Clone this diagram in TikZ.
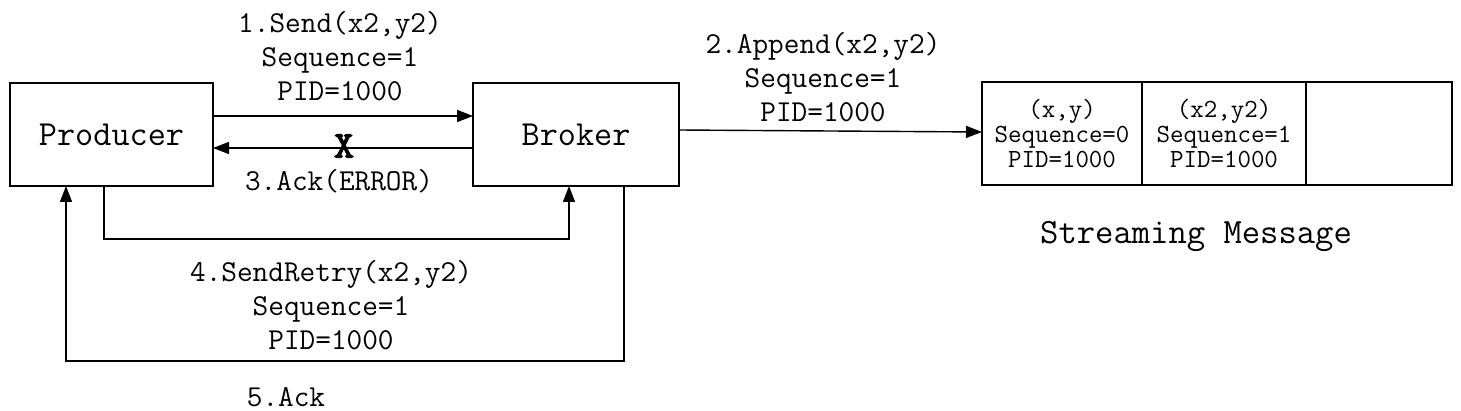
\documentclass[tikz,border=0pt]{standalone}
\usepackage{fontspec}
\usepackage{tikz}
\usetikzlibrary{arrows.meta}

\newfontfamily\boldtt{lmmono10-regular.otf}[FakeBold=3]

\tikzset{
  box/.style={draw, line width=0.7pt, inner sep=0pt, outer sep=0pt},
  arr/.style={line width=0.7pt, -{Triangle[length=8pt,width=6pt]}},
  lbl/.style={align=center, font=\fontsize{15.2}{17}\selectfont\ttfamily},
  cell/.style={box, minimum height=51.5pt, align=center, font=\fontsize{13.1}{12.5}\selectfont\ttfamily}
}

\begin{document}
\begin{tikzpicture}[x=0.5pt, y=-0.5pt]
            \useasboundingbox (0,0) rectangle (1461,411);
            \node[box, minimum width=101.5pt, minimum height=51.5pt, font=\fontsize{17.6}{20}\selectfont\ttfamily] (prod) at (111.5,134.5) {Producer};
            \node[box, minimum width=103pt, minimum height=51.5pt, font=\fontsize{17.6}{20}\selectfont\ttfamily] (brok) at (576,134.5) {Broker};
            \node[cell, minimum width=80pt] (c1) at (1062,133.5) {(x,y)\\Sequence=0\\PID=1000};
            \node[cell, minimum width=82pt] (c2) at (1224,133.5) {(x2,y2)\\Sequence=1\\PID=1000};
            \node[cell, minimum width=73pt] (c3) at (1379,133.5) {};
            \node[font=\fontsize{17.8}{20}\selectfont\ttfamily] (strm) at (1196,236) {Streaming Message};
            \draw[arr] (prod.east |- 0,116) -- (brok.west |- 0,116);
            \draw[arr] (brok.west |- 0,148) -- (prod.east |- 0,148);
            \draw[arr] (brok.east |- 0,130) -- (c1.west |- 0,132);
            \draw[arr] (prod.south -| 104,0) -- (104,239) -| (brok.south -| 569,0);
            \draw[arr] (brok.south -| 624,0) -- (624,361) -| (prod.south -| 66,0);
            \node[font=\fontsize{19}{20}\selectfont\boldtt] (x) at (344,146) {X};
            \node[lbl] (send) at (340,56) {1.Send(x2,y2)\\Sequence=1\\PID=1000};
            \node[lbl] (ack) at (339,181) {3.Ack(ERROR)};
            \node[lbl] (app) at (823,77) {2.Append(x2,y2)\\Sequence=1\\PID=1000};
            \node[lbl] (retry) at (331,305) {4.SendRetry(x2,y2)\\Sequence=1\\PID=1000};
            \node[lbl] (ack2) at (286,397) {5.Ack};
        \end{tikzpicture}
\end{document}
